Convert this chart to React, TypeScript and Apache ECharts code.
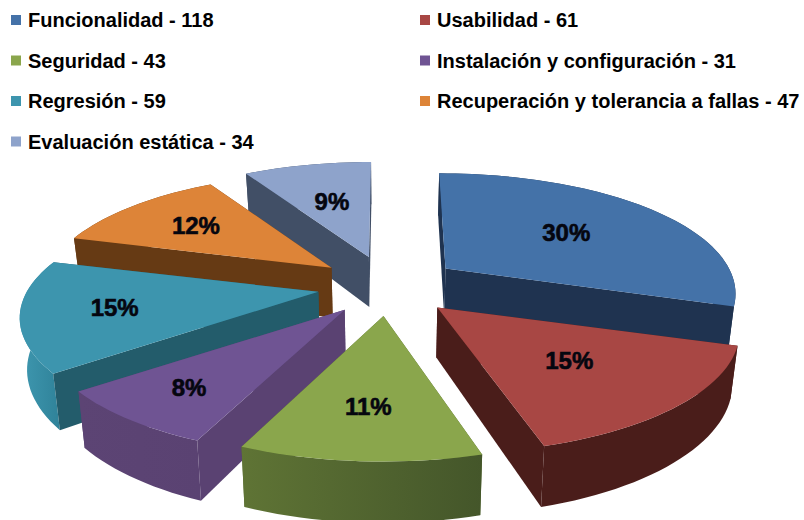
import React, { useEffect, useRef } from "react";
import * as echarts from "echarts";

// Test categories and the number of cases in each one.
const categories = [
  "Funcionalidad",
  "Usabilidad",
  "Seguridad",
  "Instalación y configuración",
  "Regresión",
  "Recuperación y tolerancia a fallas",
  "Evaluación estática",
];
const caseCounts = [118, 61, 43, 31, 59, 47, 34];
const percentLabels = ["30%", "15%", "11%", "8%", "15%", "12%", "9%"];

// Slice styling, in category order.
const topColors = ["#4472a8", "#a84744", "#8aa64c", "#6f5493", "#3d95ae", "#dd8438", "#8ea3cb"];
const cutColors = ["#1f3350", "#4a1d1a", "#55692f", "#5a4272", "#235c6b", "#663a14", "#414f66"];
const rimColors = [
  ["#1f3350", "#1f3350"],
  ["#4a1d1a", "#4a1d1a"],
  ["#5f7435", "#44562a"],
  ["#5c4474", "#5a4272"],
  ["#3f98b0", "#2f8299"],
  ["#663a14", "#663a14"],
  ["#414f66", "#414f66"],
];
const labelReach = [0.57, 0.58, 0.68, 0.75, 0.69, 0.66, 0.56];

// Projection of the tilted pie onto the page.
const CENTER_X = 388;
const CENTER_Y = 286;
const EXPLODE_X = 71;
const EXPLODE_Y = 30;
const RADIUS_X = 297;
const RADIUS_Y = 115;
const PERSPECTIVE_X = 0.186;
const PERSPECTIVE_Y = 0.21;
const CONVERGE = 0.7;
const THICKNESS = 50;
const BASE_SHRINK = 0.98;

type Pt = [number, number];

const total = caseCounts.reduce((a, b) => a + b, 0);
const sliceStart = (i: number) =>
  (caseCounts.slice(0, i).reduce((a, b) => a + b, 0) / total) * Math.PI * 2;
const sliceEnd = (i: number) => sliceStart(i + 1);
const sliceMid = (i: number) => (sliceStart(i) + sliceEnd(i)) / 2;

const apexOf = (i: number): Pt => {
  const m = sliceMid(i);
  return [CENTER_X + EXPLODE_X * Math.sin(m), CENTER_Y - EXPLODE_Y * Math.cos(m)];
};

// A point on the top face of slice i: r runs from the apex (0) to the rim (1).
const onTop = (i: number, a: number, r: number): Pt => {
  const apex = apexOf(i);
  const wx = 1 + PERSPECTIVE_X * r * Math.cos(a);
  const wy = 1 + PERSPECTIVE_Y * r * Math.cos(a);
  // Slices pushed away from the viewer look a little narrower.
  const near = Math.min(0.995, 0.975 - 0.035 * Math.cos(sliceMid(i)));
  const converge = (apex[0] - CENTER_X) * (1 / wx - 1) * CONVERGE;
  return [
    apex[0] + (near * RADIUS_X * r * Math.sin(a)) / wx + converge,
    apex[1] - (RADIUS_Y * r * Math.cos(a)) / wy,
  ];
};

// The same point dropped onto the lower face of the slab.
const onBase = (i: number, a: number, r: number): Pt => {
  const p = onTop(i, a, r);
  const w = 1 + PERSPECTIVE_X * r * Math.cos(a);
  return [CENTER_X + (p[0] - CENTER_X) * BASE_SHRINK, p[1] + THICKNESS / w];
};

const arcAngles = (from: number, to: number): number[] => {
  const steps = Math.max(6, Math.ceil((to - from) / (Math.PI / 90)));
  const out: number[] = [];
  for (let k = 0; k <= steps; k++) out.push(from + ((to - from) * k) / steps);
  return out;
};

const meanY = (pts: Pt[]) => pts.reduce((s, p) => s + p[1], 0) / pts.length;

const renderSlice = (i: number) => () => {
  const apex = apexOf(i);
  const a0 = sliceStart(i);
  const a1 = sliceEnd(i);
  const angles = arcAngles(a0, a1);
  const topRim = angles.map((a) => onTop(i, a, 1));
  const baseRim = angles.map((a) => onBase(i, a, 1));
  const baseApex = onBase(i, 0, 0);

  const walls: { points: Pt[]; fill: any }[] = [
    { points: [apex, onTop(i, a0, 1), onBase(i, a0, 1), baseApex], fill: cutColors[i] },
    { points: [apex, onTop(i, a1, 1), onBase(i, a1, 1), baseApex], fill: cutColors[i] },
    {
      points: [...topRim, ...baseRim.slice().reverse()],
      fill: new echarts.graphic.LinearGradient(0, 0, 1, 0, [
        { offset: 0, color: rimColors[i][0] },
        { offset: 1, color: rimColors[i][1] },
      ]),
    },
  ];
  walls.sort((p, q) => meanY(p.points) - meanY(q.points));

  const labelAt = onTop(i, sliceMid(i), labelReach[i]);

  return {
    type: "group",
    children: [
      ...walls.map((wall) => ({
        type: "polygon",
        shape: { points: wall.points },
        style: { fill: wall.fill },
      })),
      {
        type: "polygon",
        shape: { points: [apex, ...topRim] },
        style: { fill: topColors[i] },
      },
      {
        type: "text",
        style: {
          text: percentLabels[i],
          x: labelAt[0],
          y: labelAt[1],
          align: "center",
          verticalAlign: "middle",
          fill: "#05060f",
          stroke: "#05060f",
          lineWidth: 0.6,
          font: 'bold 24px "Liberation Sans", Arial, sans-serif',
        },
      },
    ],
  };
};

const legendName = (i: number) => `${categories[i]} - ${caseCounts[i]}`;

const legendBase = {
  orient: "vertical" as const,
  icon: "rect",
  itemWidth: 10,
  itemHeight: 10,
  itemGap: 20.5,
  selectedMode: false,
  padding: 0,
  textStyle: {
    color: "#000000",
    fontFamily: '"Liberation Sans", Arial, sans-serif',
    fontSize: 20,
    fontWeight: "bold",
    padding: [0, 0, 0, 2],
  },
};

export default function App() {
  const ref = useRef<HTMLDivElement>(null);

  useEffect(() => {
    document.body.style.margin = "0";
    const chart = echarts.init(ref.current!, undefined, { renderer: "svg" });
    chart.setOption({
      animation: false,
      backgroundColor: "#ffffff",
      legend: [
        { ...legendBase, left: 11, top: 10, data: [0, 2, 4, 6].map(legendName) },
        { ...legendBase, left: 420, top: 10, data: [1, 3, 5].map(legendName) },
      ],
      series: categories.map((_, i) => ({
        type: "custom",
        name: legendName(i),
        coordinateSystem: "none",
        // Nearer slices are painted over the ones behind them.
        z: 2 - Math.cos(sliceMid(i)),
        itemStyle: { color: topColors[i] },
        silent: true,
        renderItem: renderSlice(i),
        data: [caseCounts[i]],
      })),
    });
    return () => chart.dispose();
  }, []);

  return <div ref={ref} style={{ width: 804, height: 520 }} />;
}
